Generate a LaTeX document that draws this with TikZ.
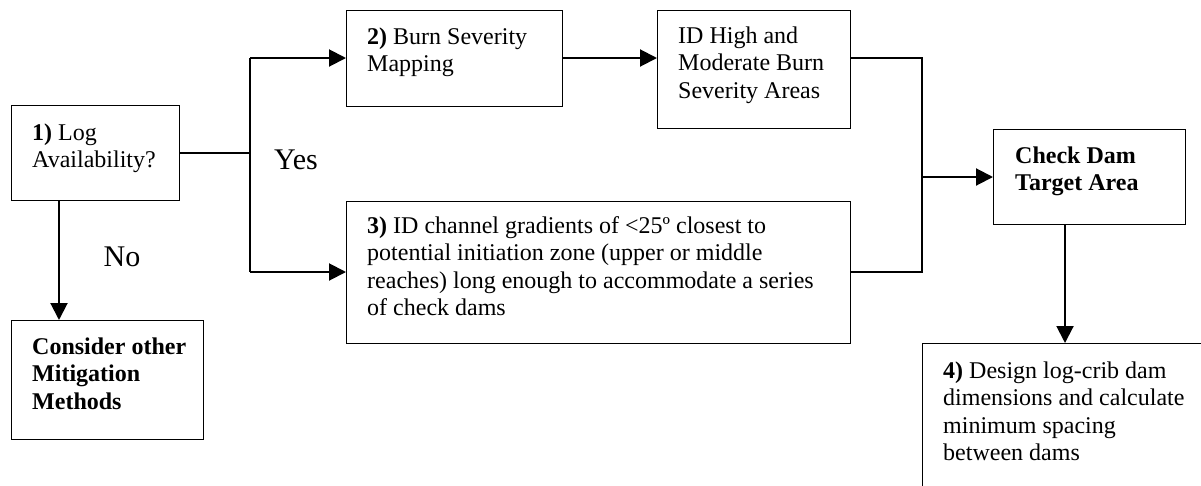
\documentclass[tikz,border=0pt]{standalone}
\usepackage{fontspec}
\setmainfont{Liberation Serif}
\usetikzlibrary{arrows.meta}
\begin{document}
\begin{tikzpicture}[x=1pt,y=-1pt,
  box/.style={draw,line width=1.1pt,rectangle,anchor=north west,inner sep=0pt},
  txt/.style={anchor=base west,inner sep=0pt,font=\fontsize{24}{27.5}\selectfont},
  lbl/.style={inner sep=0pt,font=\fontsize{30}{32}\selectfont},
  conn/.style={line width=1.2pt},
  arr/.style={line width=2pt,-{Triangle[length=17pt,width=17pt]}}
]
\useasboundingbox (0,0) rectangle (1201,485);
\begin{scope}
\clip (0,0) rectangle (1201,485);
% boxes
\node[box,minimum width=168pt,minimum height=95pt] (b1) at (11,105) {};
\node[box,minimum width=216pt,minimum height=96pt] (b2) at (346,10) {};
\node[box,minimum width=193pt,minimum height=118pt] (bid) at (657,10) {};
\node[box,minimum width=504pt,minimum height=142pt] (b3) at (346,201) {};
\node[box,minimum width=192pt,minimum height=95pt] (bcd) at (993,129) {};
\node[box,minimum width=300pt,minimum height=160pt] (b4) at (922,343) {};
\node[box,minimum width=192pt,minimum height=119pt] (bcon) at (11,320) {};
% texts
\node[txt] (t1) at (32,140) {\parbox[t]{150pt}{\textbf{1)} Log\\Availability?}};
\node[txt] (t2) at (367,44) {\parbox[t]{200pt}{\textbf{2)} Burn Severity\\Mapping}};
\node[txt] (tid) at (678,43) {\parbox[t]{180pt}{ID High and\\Moderate Burn\\Severity Areas}};
\node[txt] (t3) at (367,233) {\parbox[t]{480pt}{\textbf{3)} ID channel gradients of <25º closest to\\potential initiation zone (upper or middle\\reaches) long enough to accommodate a series\\of check dams}};
\node[txt] (tcd) at (1015,163) {\parbox[t]{170pt}{\textbf{Check Dam}\\\textbf{Target Area}}};
\node[txt] (t4) at (943,378) {\parbox[t]{260pt}{\textbf{4)} Design log-crib dam\\dimensions and calculate\\minimum spacing\\between dams}};
\node[txt] (tcon) at (32,354) {\parbox[t]{170pt}{\textbf{Consider other}\\\textbf{Mitigation}\\\textbf{Methods}}};
\node[lbl,anchor=base] (yes) at (296,169) {Yes};
\node[lbl,anchor=base] (no) at (122,266) {No};
% junctions
\coordinate (j1) at (250,153);
\coordinate (jt) at (250,58);
\coordinate (jb) at (250,272);
\coordinate (k1) at (922,58);
\coordinate (km) at (922,177);
\coordinate (kb) at (922,272);
% connectors
\draw[conn] (b1.east |- j1) -- (j1);
\draw[conn] (jt) -- (jb);
\draw[arr] (jt) -- (jt -| b2.west);
\draw[arr] (jb) -- (jb -| b3.west);
\draw[arr] (b2.east |- jt) -- (bid.west |- jt);
\draw[conn] (bid.east |- k1) -- (k1) -- (kb) -- (b3.east |- kb);
\draw[arr] (km) -- (km -| bcd.west);
\draw[arr] (bcd.south -| 1065,0) -- (b4.north -| 1065,0);
\draw[arr] (b1.south -| 59,0) -- (bcon.north -| 59,0);
\end{scope}
\end{tikzpicture}
\end{document}
